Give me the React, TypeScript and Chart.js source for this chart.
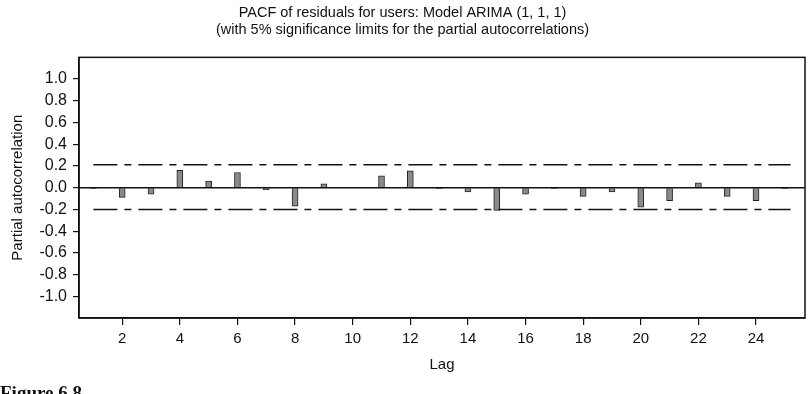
import React, { useEffect, useRef } from "react";
import { Chart, registerables } from "chart.js";

Chart.register(...registerables);

// Partial autocorrelations of the residuals, lags 1..25
const lags = [1, 2, 3, 4, 5, 6, 7, 8, 9, 10, 11, 12, 13, 14, 15, 16, 17, 18, 19, 20, 21, 22, 23, 24, 25];
const pacf = [-0.01, -0.09, -0.06, 0.16, 0.06, 0.14, -0.02, -0.17, 0.035, 0.005, 0.11, 0.155, -0.01, -0.04, -0.21, -0.06, -0.01, -0.08, -0.04, -0.18, -0.12, 0.045, -0.08, -0.12, -0.01];

// 5% significance limits
const upperLimit = 0.21;
const lowerLimit = -0.2;
const limitSpan = [1, 25.2];
const zeroSpan = [0.5, 25.7];

const yTicks = [-1.0, -0.8, -0.6, -0.4, -0.2, 0.0, 0.2, 0.4, 0.6, 0.8, 1.0];
const xTicks = [2, 4, 6, 8, 10, 12, 14, 16, 18, 20, 22, 24];

const titleLines = [
  "PACF of residuals for users: Model ARIMA (1, 1, 1)",
  "(with 5% significance limits for the partial autocorrelations)",
];
const captionText = "Figure 6.8";

const FONT = "'Liberation Sans', Arial, Helvetica, sans-serif";

const frameAndCaption = {
  id: "frameAndCaption",
  afterDraw(chart: any) {
    const { ctx, chartArea } = chart;
    ctx.save();
    ctx.strokeStyle = "#111";
    ctx.lineWidth = 1.5;
    ctx.strokeRect(chartArea.left, chartArea.top, chartArea.right - chartArea.left, chartArea.bottom - chartArea.top);
    ctx.fillStyle = "#111";
    ctx.font = "bold 19px 'Liberation Serif', 'Times New Roman', serif";
    ctx.textBaseline = "alphabetic";
    ctx.textAlign = "left";
    ctx.fillText(captionText, 0, 399);
    ctx.restore();
  },
};

export default function App() {
  const ref = useRef<HTMLCanvasElement | null>(null);

  useEffect(() => {
    if (!ref.current) return;
    const chart = new Chart(ref.current, {
      type: "bar",
      data: {
        datasets: [
          {
            type: "bar",
            data: lags.map((l, i) => ({ x: l, y: pacf[i] })),
            backgroundColor: "#8a8a8a",
            borderColor: "#222",
            borderWidth: 1,
            barThickness: 6,
            order: 2,
          } as any,
          {
            type: "line",
            data: zeroSpan.map((x) => ({ x, y: 0 })),
            borderColor: "#111",
            borderWidth: 1.5,
            pointRadius: 0,
            order: 1,
          },
          {
            type: "line",
            data: limitSpan.map((x) => ({ x, y: upperLimit })),
            borderColor: "#111",
            borderWidth: 1.5,
            borderDash: [24, 7, 7, 7],
            pointRadius: 0,
            order: 1,
          },
          {
            type: "line",
            data: limitSpan.map((x) => ({ x, y: lowerLimit })),
            borderColor: "#111",
            borderWidth: 1.5,
            borderDash: [24, 7, 7, 7],
            pointRadius: 0,
            order: 1,
          },
        ],
      },
      options: {
        animation: false,
        responsive: false,
        maintainAspectRatio: false,
        layout: { padding: { top: 5, right: 6, bottom: 20, left: 0 } },
        plugins: {
          legend: { display: false },
          tooltip: { enabled: false },
          title: {
            display: true,
            text: titleLines,
            color: "#111",
            font: { family: FONT, size: 14.5, weight: "normal", lineHeight: 1.15 },
            padding: { top: 0, bottom: 19 },
          },
        },
        scales: {
          x: {
            type: "linear",
            min: 0.5,
            max: 25.7,
            offset: false,
            afterBuildTicks: (s: any) => {
              s.ticks = xTicks.map((v) => ({ value: v }));
            },
            ticks: { color: "#111", font: { family: FONT, size: 15 }, padding: 5, maxRotation: 0, callback: (v: any) => String(v) },
            grid: { offset: false, drawOnChartArea: false, drawTicks: true, tickLength: 7, color: "#111", lineWidth: 1.2 },
            border: { display: true, color: "#111", width: 1.5 },
            title: { display: true, text: "Lag", color: "#111", font: { family: FONT, size: 15 }, padding: { top: 3, bottom: 0 } },
          },
          y: {
            min: -1.2,
            max: 1.2,
            afterBuildTicks: (s: any) => {
              s.ticks = yTicks.map((v) => ({ value: v }));
            },
            afterFit: (s: any) => {
              s.width = 79;
            },
            ticks: { color: "#111", font: { family: FONT, size: 16 }, padding: 6, callback: (v: any) => Number(v).toFixed(1) },
            grid: { drawOnChartArea: false, drawTicks: true, tickLength: 6, color: "#111", lineWidth: 1.2 },
            border: { display: true, color: "#111", width: 1.5 },
            title: { display: true, text: "Partial autocorrelation", color: "#111", font: { family: FONT, size: 15 }, padding: { top: 9, bottom: 0 } },
          },
        },
      },
      plugins: [frameAndCaption],
    });
    return () => chart.destroy();
  }, []);

  return (
    <div style={{ position: "fixed", left: 0, top: 0, width: 811, height: 394, background: "#fff" }}>
      <canvas ref={ref} width={811} height={394} style={{ display: "block" }} />
    </div>
  );
}
